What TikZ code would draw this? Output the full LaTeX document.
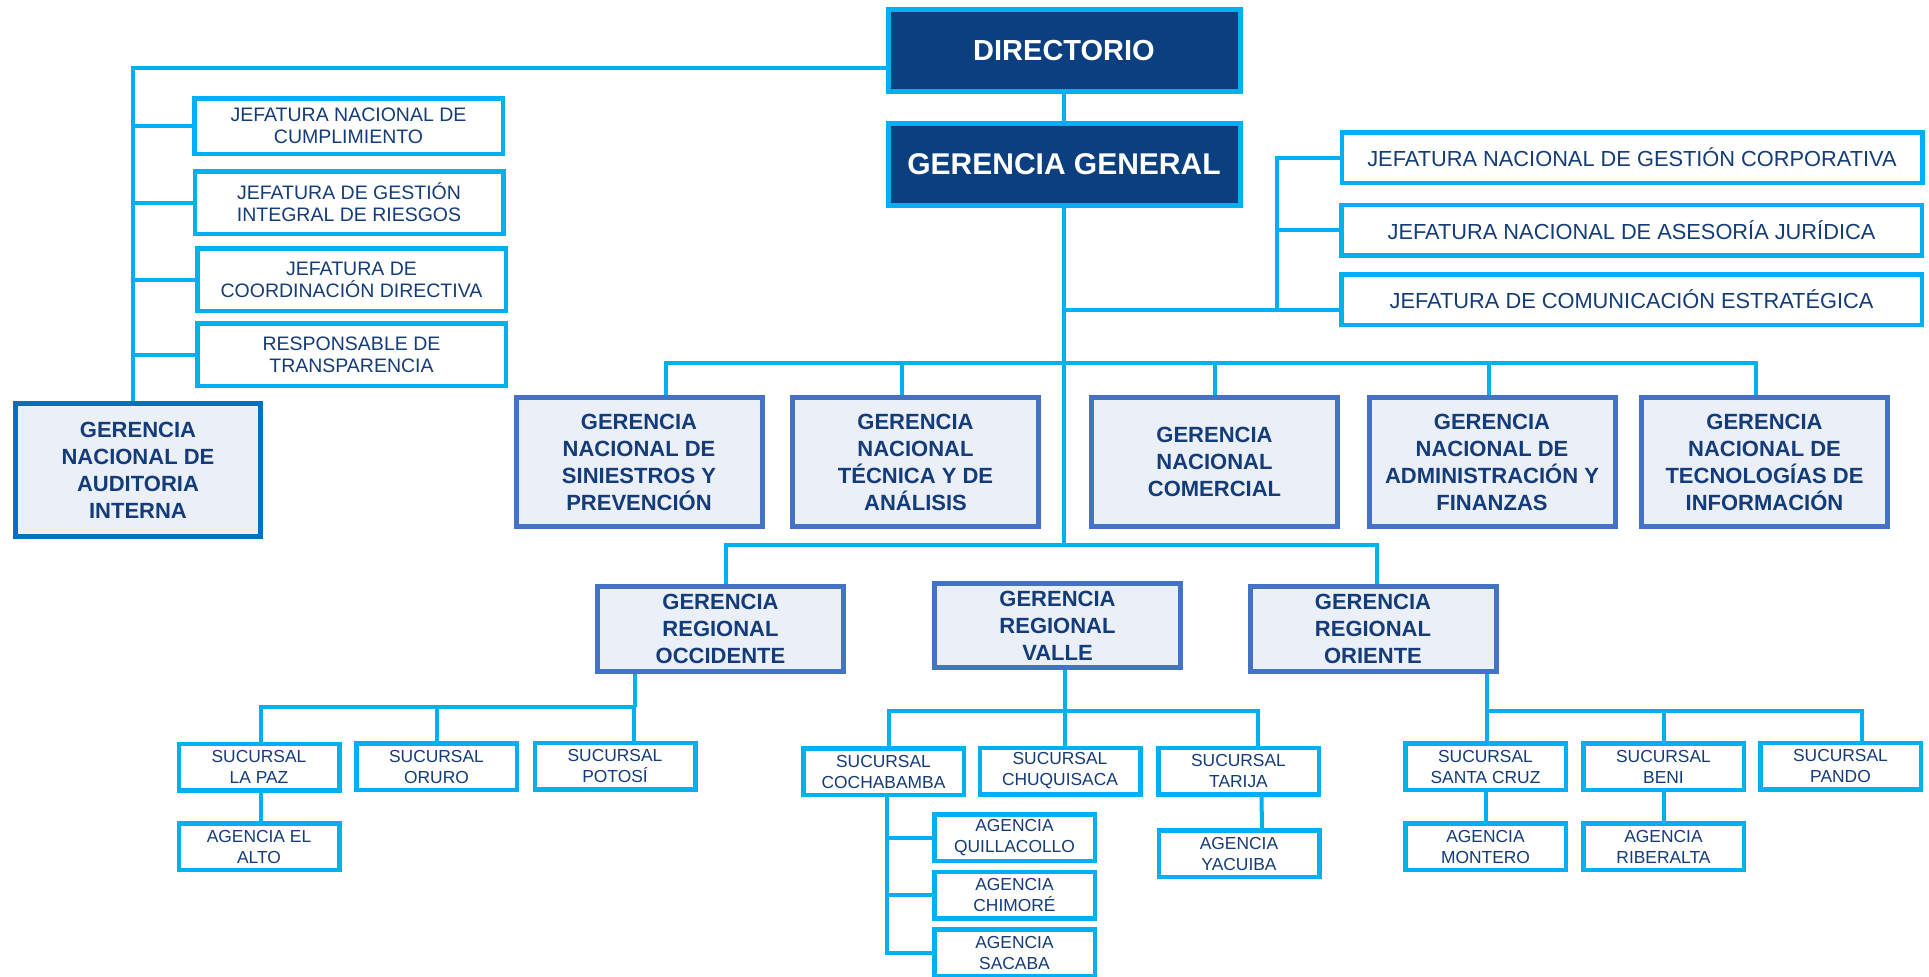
\documentclass[tikz,border=0pt]{standalone}
\usepackage{fontspec}
\setmainfont{Liberation Sans}
\usepackage{xcolor}
\usetikzlibrary{backgrounds}

\definecolor{cian}{RGB}{0,176,240}
\definecolor{marino}{RGB}{11,63,127}
\definecolor{azulger}{RGB}{68,114,196}
\definecolor{azulaud}{RGB}{0,112,192}
\definecolor{fondoger}{RGB}{234,239,248}
\definecolor{letra}{RGB}{20,60,120}

\tikzset{
	link/.style={cian, line width=2pt},
	cabeza/.style={draw=cian, fill=marino, line width=2.5pt, text=white, inner sep=0pt, minimum width=176pt, minimum height=41pt},
	gerencia/.style={draw=azulger, fill=fondoger, line width=2.5pt, text=letra, font=\bfseries\fontsize{11}{13.5}\selectfont, align=center, inner sep=0pt, minimum width=123pt},
	jefatura/.style={draw=cian, fill=white, line width=2.25pt, text=letra, font=\fontsize{9.75}{11}\selectfont, align=center, inner sep=0pt, minimum width=154.25pt, minimum height=31.25pt},
	jefderecha/.style={jefatura, font=\fontsize{10.9}{13}\selectfont, minimum width=290.25pt, minimum height=25.25pt},
	oficina/.style={draw=cian, fill=white, line width=2.25pt, text=letra, font=\fontsize{8.7}{10.5}\selectfont, align=center, inner sep=0pt, minimum width=80.25pt, minimum height=23.25pt},
}

\begin{document}
\begin{tikzpicture}[x=0.5pt, y=-0.5pt]
	\useasboundingbox (0,0) rectangle (1929,976);

	\node[cabeza, font=\bfseries\fontsize{14.5}{17}\selectfont] (dir) at (1064,50.5) {DIRECTORIO};
	\node[cabeza, font=\bfseries\fontsize{15}{18}\selectfont] (gg) at (1064,164.5) {GERENCIA GENERAL};

	% staff del directorio
	\node[jefatura, minimum height=27.75pt] (jnc) at (348.5,126) {JEFATURA NACIONAL DE\\CUMPLIMIENTO};
	\node[jefatura] (jgir) at (349,202.5) {JEFATURA DE GESTIÓN\\INTEGRAL DE RIESGOS};
	\node[jefatura] (jcd) at (351.5,279.5) {JEFATURA DE\\COORDINACIÓN DIRECTIVA};
	\node[jefatura] (rt) at (351.5,354.5) {RESPONSABLE DE\\TRANSPARENCIA};
	\node[gerencia, draw=azulaud, minimum width=122.5pt, minimum height=66.5pt] (gnai) at (138,470) {GERENCIA\\NACIONAL DE\\AUDITORIA\\INTERNA};

	% staff de gerencia general
	\node[jefderecha] (jngc) at (1632,157.5) {JEFATURA NACIONAL DE GESTIÓN CORPORATIVA};
	\node[jefderecha] (jnaj) at (1631.5,230) {JEFATURA NACIONAL DE ASESORÍA JURÍDICA};
	\node[jefderecha] (jce) at (1631.5,299.5) {JEFATURA DE COMUNICACIÓN ESTRATÉGICA};

	% gerencias nacionales
	\node[gerencia, minimum height=64.5pt] (gns) at (639,462) {GERENCIA\\NACIONAL DE\\SINIESTROS Y\\PREVENCIÓN};
	\node[gerencia, minimum height=64.5pt] (gnt) at (915.5,462) {GERENCIA\\NACIONAL\\TÉCNICA Y DE\\ANÁLISIS};
	\node[gerencia, minimum height=64.5pt] (gnc) at (1214.5,462) {GERENCIA\\NACIONAL\\COMERCIAL};
	\node[gerencia, minimum height=64.5pt] (gnaf) at (1492,462) {GERENCIA\\NACIONAL DE\\ADMINISTRACIÓN Y\\FINANZAS};
	\node[gerencia, minimum height=64.5pt] (gnti) at (1764.5,462) {GERENCIA\\NACIONAL DE\\TECNOLOGÍAS DE\\INFORMACIÓN};

	% gerencias regionales
	\node[gerencia, minimum height=42.5pt] (gro) at (720.5,629) {GERENCIA\\REGIONAL\\OCCIDENTE};
	\node[gerencia, minimum height=42pt] (grv) at (1057.5,625.5) {GERENCIA\\REGIONAL\\VALLE};
	\node[gerencia, minimum height=42.5pt] (gror) at (1373,629) {GERENCIA\\REGIONAL\\ORIENTE};

	% occidente
	\node[oficina] (slp) at (259,767) {SUCURSAL\\LA PAZ};
	\node[oficina] (sor) at (436.5,766.5) {SUCURSAL\\ORURO};
	\node[oficina] (spo) at (615,766) {SUCURSAL\\POTOSÍ};
	\node[oficina] (aea) at (259,846.5) {AGENCIA EL\\ALTO};

	% valle
	\node[oficina] (sco) at (883.5,771.5) {SUCURSAL\\COCHABAMBA};
	\node[oficina] (sch) at (1060,771) {SUCURSAL\\CHUQUISACA};
	\node[oficina] (sta) at (1238.5,771) {SUCURSAL\\TARIJA};
	\node[oficina] (aya) at (1239,853.5) {AGENCIA\\YACUIBA};
	\node[oficina] (aqu) at (1014.5,837.5) {AGENCIA\\QUILLACOLLO};
	\node[oficina] (ach) at (1014.5,895) {AGENCIA\\CHIMORÉ};
	\node[oficina] (asa) at (1014.5,952.5) {AGENCIA\\SACABA};

	% oriente
	\node[oficina] (ssc) at (1485.5,766.5) {SUCURSAL\\SANTA CRUZ};
	\node[oficina] (sbe) at (1663.5,766.5) {SUCURSAL\\BENI};
	\node[oficina] (spa) at (1840.5,766) {SUCURSAL\\PANDO};
	\node[oficina] (amo) at (1485.5,846.5) {AGENCIA\\MONTERO};
	\node[oficina] (ari) at (1663.5,846.5) {AGENCIA\\RIBERALTA};

	\coordinate (izq) at (133,68);
	\coordinate (der) at (1277,310);
	\coordinate (nacbus) at (1064,363);
	\coordinate (regbus) at (1064,545);
	\coordinate (occbus) at (635,707);
	\coordinate (valbus) at (1065,711);
	\coordinate (oribus) at (1487,711);
	\coordinate (cbr) at (887,800);

	\begin{scope}[on background layer]
		\draw[link] (dir.south) -- (gg.north);
		\draw[link] (dir.west |- izq) -- (izq) -- (izq |- gnai.north);
		\foreach \n in {jnc,jgir,jcd,rt}
			\draw[link] (\n.west) -- (\n.west -| izq);
		\draw[link] (jngc.west) -| (der);
		\draw[link] (jnaj.west) -- (jnaj.west -| der);
		\draw[link] (gg.south |- der) -- (der) -- (der -| jce.west);
		\draw[link] (gg.south) -- (regbus);
		\foreach \n/\d in {gns/13.5pt,gnt/-7pt,gnc/0pt,gnaf/-1.5pt,gnti/-4.5pt}
			\draw[link] ([xshift=\d]\n.north) |- (nacbus);
		\foreach \n/\d in {gro/2.75pt,gror/2pt}
			\draw[link] ([xshift=\d]\n.north) |- (regbus);
%		occidente
		\draw[link] (gro.south -| occbus) -- (occbus);
		\foreach \n/\d in {slp/1pt,sor/0pt,spo/9.5pt}
			\draw[link] ([xshift=\d]\n.north) |- (occbus);
		\draw[link] ([xshift=1pt]slp.south) -- ([xshift=1pt]aea.north);
%		valle
		\draw[link] (grv.south -| valbus) -- (valbus) -- (valbus |- sch.north);
		\foreach \n/\d in {sco/2.75pt,sta/9.75pt}
			\draw[link] ([xshift=\d]\n.north) |- (valbus);
		\draw[link] ([xshift=11.5pt]sta.south) -- ([xshift=11.5pt]aya.north);
		\draw[link] (sco.south -| cbr) |- (asa.west);
		\foreach \n in {aqu,ach}
			\draw[link] (\n.west) -- (\n.west -| cbr);
%		oriente
		\draw[link] (gror.south -| oribus) -- (oribus) -- (oribus |- ssc.north);
		\foreach \n/\d in {sbe/0pt,spa/10.75pt}
			\draw[link] ([xshift=\d]\n.north) |- (oribus);
		\draw[link] (ssc.south) -- (amo.north);
		\draw[link] (sbe.south) -- (ari.north);
	\end{scope}
\end{tikzpicture}
\end{document}
